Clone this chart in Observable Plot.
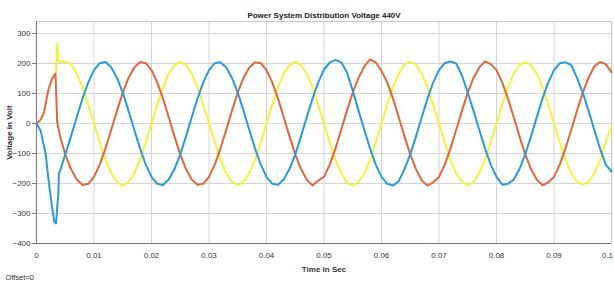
<!DOCTYPE html>
<html>
<head>
<meta charset="utf-8">
<script src="https://cdn.jsdelivr.net/npm/d3@7"></script>
<script src="https://cdn.jsdelivr.net/npm/@observablehq/plot@0.6"></script>
<style>
  html, body { margin: 0; padding: 0; background: #fff; }
  #chart svg { display: block; }
</style>
</head>
<body>
<div id="chart"></div>
<script>
// ---- data ----
const titleText = "Power System Distribution Voltage 440V";
const xLabel = "Time in Sec";
const yLabel = "Voltage in Volt";
const footText = "Offset=0";
const xTicks = [0, 0.01, 0.02, 0.03, 0.04, 0.05, 0.06, 0.07, 0.08, 0.09, 0.1];
const yTicks = [-400, -300, -200, -100, 0, 100, 200, 300];

// start-up transient (s, V)
const orangeStartT = [0, 0.0007, 0.0013, 0.0021, 0.0027, 0.0033, 0.0036, 0.0042];
const orangeStartV = [0, 12, 37, 115, 150, 166, 4, -50];
const blueStartT = [0, 0.0007, 0.0016, 0.0021, 0.0027, 0.0031, 0.0034, 0.0036, 0.0038, 0.0039, 0.0043];
const blueStartV = [0, -23, -101, -190, -279, -329, -333, -279, -234, -168, -146];
const yellowStartT = [0.0034, 0.0036, 0.0038, 0.0042];
const yellowStartV = [171, 266, 212, 206];

// steady samples every 1 ms from 0.005 s to 0.100 s
const steadyT = d3.range(5, 101).map(i => i / 1000);
const yellowV = [
  206, 198, 166, 121, 63, 0, -63, -121, -166, -195, -207, -195, -166, -121, -63,
  0, 63, 121, 166, 195, 205, 195, 166, 121, 63, 0, -63, -121, -166, -195, -206, -195, -166, -121, -63,
  0, 63, 121, 166, 195, 205, 195, 166, 121, 63, 0, -63, -121, -166, -197, -208, -195, -166, -121, -63,
  0, 63, 121, 166, 197, 206, 195, 166, 121, 63, 0, -63, -121, -166, -195, -206, -195, -166, -121, -63,
  0, 63, 121, 166, 195, 204, 195, 166, 121, 63, 0, -63, -121, -166, -195, -204, -195, -166, -121, -63,
  -10
];
const blueV = [
  -103, -43, 21, 83, 137, 178, 201, 205, 187, 152, 103, 43, -21, -83, -137,
  -178, -201, -205, -187, -152, -103, -43, 21, 83, 137, 178, 201, 204, 187, 152, 103, 43, -21, -83, -137,
  -178, -201, -204, -187, -152, -103, -43, 21, 83, 137, 180, 203, 212, 204, 170, 110, 43, -21, -83, -137,
  -178, -201, -207, -192, -152, -103, -43, 21, 83, 137, 178, 201, 207, 200, 160, 103, 43, -21, -83, -137,
  -178, -204, -201, -187, -152, -103, -43, 21, 83, 137, 178, 201, 204, 195, 152, 103, 43, -21, -83, -137,
  -160
];
const orangeV = [
  -103, -152, -187, -205, -201, -178, -137, -83, -21, 43, 103, 152, 187, 205, 201,
  178, 137, 83, 21, -43, -103, -152, -187, -204, -201, -178, -137, -83, -21, 43, 103, 152, 187, 204, 201,
  178, 137, 83, 21, -43, -103, -152, -187, -207, -190, -178, -137, -83, -21, 43, 103, 152, 190, 214, 204,
  175, 137, 83, 21, -43, -103, -152, -190, -207, -196, -178, -137, -83, -21, 43, 103, 152, 187, 207, 198,
  178, 137, 83, 21, -43, -103, -152, -187, -206, -196, -178, -137, -83, -21, 43, 103, 152, 190, 205, 198,
  171
];

const colors = { yellow: "#f5f23c", orange: "#e2673a", blue: "#2a9bd8" };

function series(name, t0, v0, v) {
  const rows = t0.map((t, i) => ({ s: name, t, v: v0[i] }));
  steadyT.forEach((t, i) => rows.push({ s: name, t, v: v[i] }));
  return rows;
}
const yellow = series("yellow", yellowStartT, yellowStartV, yellowV);
const orange = series("orange", orangeStartT, orangeStartV, orangeV);
const blue = series("blue", blueStartT, blueStartV, blueV);

const font = "'Liberation Sans Narrow', 'Liberation Sans', Arial, sans-serif";
const fmt = d => d === 0 ? "0" : String(+d.toFixed(2));

const chart = Plot.plot({
  width: 614,
  height: 284,
  marginLeft: 36,
  marginRight: 3,
  marginTop: 21,
  marginBottom: 41,
  style: { fontFamily: font, fontSize: "8px", background: "#fff", color: "#333" },
  x: { domain: [0, 0.1], ticks: xTicks },
  y: { domain: [-400, 340], ticks: yTicks },
  marks: [
    Plot.gridX(xTicks, { stroke: "#d4d4d4", strokeOpacity: 1 }),
    Plot.gridY(yTicks, { stroke: "#d4d4d4", strokeOpacity: 1 }),
    Plot.frame({ stroke: "#c8c8c8" }),
    Plot.ruleY([-400], { stroke: "#777" }),
    Plot.ruleX([0], { stroke: "#777" }),
    Plot.axisX(xTicks.slice(0, -1), {
      tickSize: 0, tickPadding: 9, tickFormat: fmt,
      label: xLabel, labelAnchor: "center", labelArrow: "none", labelOffset: 28,
      fill: "#333", fontSize: 8
    }),
    Plot.axisX(xTicks.slice(-1), {
      tickSize: 0, tickPadding: 9, tickFormat: fmt, dx: -4,
      label: null, fill: "#333", fontSize: 8
    }),
    Plot.axisY(yTicks, {
      tickSize: 4, tickPadding: 2, stroke: "#777",
      label: yLabel, labelAnchor: "center", labelArrow: "none", labelOffset: 30,
      fill: "#333", fontSize: 8
    }),
    Plot.line(yellow, { x: "t", y: "v", stroke: colors.yellow, strokeWidth: 2 }),
    Plot.line(orange, { x: "t", y: "v", stroke: colors.orange, strokeWidth: 2 }),
    Plot.line(blue, { x: "t", y: "v", stroke: colors.blue, strokeWidth: 2 }),
    Plot.text([titleText], { frameAnchor: "top", dy: -9, fontWeight: "bold", fontSize: 8, fill: "#222" }),
    Plot.text([footText], { frameAnchor: "bottom-left", dx: -31, dy: 36, textAnchor: "start", fontSize: 7.5, fill: "#333" })
  ]
});

// make the axis labels bold like the reference
chart.querySelectorAll("g[aria-label='x-axis label'] text, g[aria-label='y-axis label'] text").forEach(t => t.setAttribute("font-weight", "bold"));
document.getElementById("chart").appendChild(chart);
</script>
</body>
</html>
